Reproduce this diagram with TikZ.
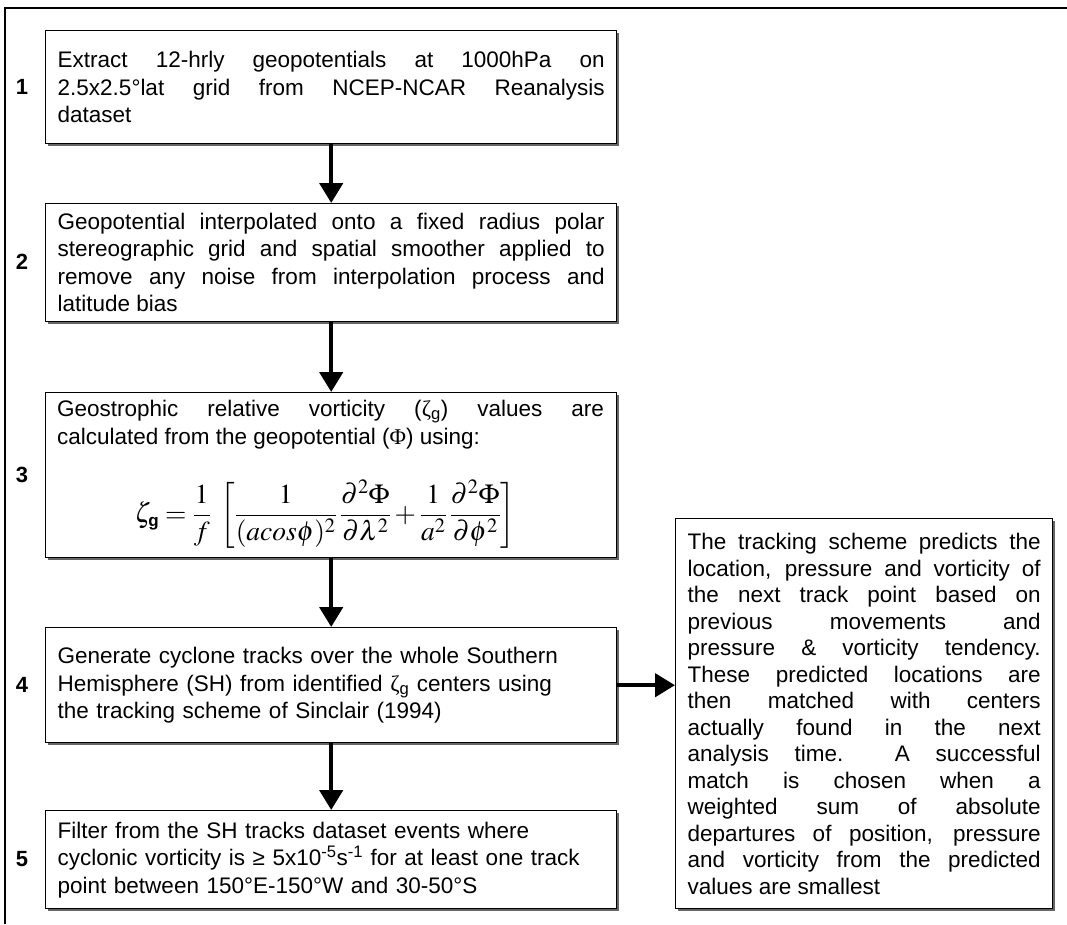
\documentclass[tikz,border=0pt]{standalone}
\usepackage{mathptmx}
\usepackage[no-math]{fontspec}
\setmainfont{Liberation Sans}
\newfontfamily\serifgr{Liberation Serif}
\usetikzlibrary{arrows.meta,shadows}
\newcommand\bodytxt{\fontsize{22.5}{27.5}\selectfont\hyphenpenalty=10000\tolerance=10000\hbadness=10000}
\newcommand\sidetxt{\fontsize{22.5}{26.5}\selectfont\hyphenpenalty=10000\tolerance=10000\hbadness=10000}
\begin{document}
\begin{tikzpicture}[x=1pt,y=-1pt,
  box/.style={draw=black, line width=1.4pt, fill=white, anchor=north west,
    inner xsep=12pt, inner ysep=0pt,
    drop shadow={shadow xshift=1.8pt, shadow yshift=-1.8pt, fill=black!60, opacity=1}},
  jtext/.style={align=justify, font=\bodytxt},
  ltext/.style={align=left, font=\bodytxt},
  num/.style={font=\fontsize{22}{26}\selectfont\bfseries},
  arr/.style={line width=4.5pt, -{Triangle[length=20pt,width=23pt]}},
  frame/.style={line width=2pt}
]
\useasboundingbox (0,0) rectangle (1067,924);
\draw[frame] (5,924) -- (5,8) -- (1067,8);

\node[box, jtext, minimum width=571pt, minimum height=113pt, text width=547pt] (b1) at (45,30)
 {Extract 12-hrly geopotentials at 1000hPa on\linebreak 2.5x2.5°lat grid from NCEP-NCAR Reanalysis\linebreak dataset};
\node[box, jtext, minimum width=571pt, minimum height=118pt, text width=547pt] (b2) at (45,203)
 {Geopotential interpolated onto a fixed radius polar\linebreak stereographic grid and spatial smoother applied to\linebreak remove any noise from interpolation process and\linebreak latitude bias};
\node[box, minimum width=571pt, minimum height=165pt] (b3) at (45,392) {};
\node[jtext, text width=547pt, anchor=north, inner sep=0pt] (b3t) at (330.5,400)
 {Geostrophic relative vorticity ({\serifgr ζ}\textsubscript{g}) values are\linebreak calculated from the geopotential ({\serifgr Φ}) using:};
\node[font=\fontsize{27.5}{32}\selectfont, inner sep=0pt] (b3f) at (325,514)
 {$\displaystyle \zeta_{\textbf{\fontsize{17}{19}\selectfont g}} = \frac{1}{f}\;\left[\frac{1}{(acos\phi)^2}\,\frac{\partial^2\Phi}{\partial\lambda^2}+\frac{1}{a^2}\,\frac{\partial^2\Phi}{\partial\phi^2}\right]$};
\node[box, ltext, minimum width=571pt, minimum height=115pt, text width=547pt] (b4) at (45,627)
 {Generate cyclone tracks over the whole Southern\\ Hemisphere (SH) from identified {\serifgr ζ}\textsubscript{g} centers using\\ the tracking scheme of Sinclair (1994)};
\node[box, ltext, minimum width=571pt, minimum height=98pt, text width=547pt] (b5) at (45,810)
 {Filter from the SH tracks dataset events where\\ cyclonic vorticity is ≥ 5x10\textsuperscript{-5}s\textsuperscript{-1} for at least one track\\ point between 150°E-150°W and 30-50°S};
\node[box, align=justify, font=\sidetxt, minimum width=377pt, minimum height=390pt, text width=353pt] (r) at (675,518)
 {The tracking scheme predicts the\linebreak location, pressure and vorticity of\linebreak the next track point based on\linebreak previous movements and\linebreak pressure \& vorticity tendency.\linebreak These predicted locations are\linebreak then matched with centers\linebreak actually found in the next\linebreak analysis time.\ \ A successful\linebreak match is chosen when a\linebreak weighted sum of absolute\linebreak departures of position, pressure\linebreak and vorticity from the predicted\linebreak values are smallest};

\node[num] (n1) at (22,87) {1};
\node[num] (n2) at (22,262) {2};
\node[num] (n3) at (22,475) {3};
\node[num] (n4) at (22,685) {4};
\node[num] (n5) at (22,859) {5};

\draw[arr] (b1.south) -- (b2.north);
\draw[arr] (b2.south) -- (b3.north);
\draw[arr] (b3.south) -- (b4.north);
\draw[arr] (b4.south) -- (b5.north);
\draw[arr] (b4.east) -- (r.west |- b4.east);
\end{tikzpicture}
\end{document}
